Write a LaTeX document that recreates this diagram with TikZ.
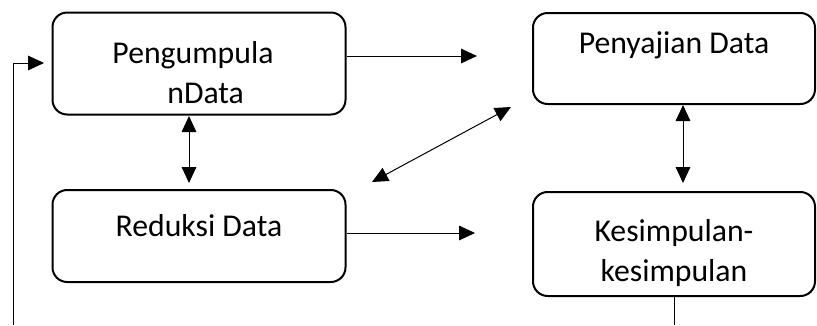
\documentclass[tikz,border=0pt]{standalone}
\usepackage{fontspec}
\setmainfont{Carlito}
\usetikzlibrary{arrows.meta, positioning}

\begin{document}
\begin{tikzpicture}[x=0.75pt, y=-0.75pt, >={Triangle[length=12pt, width=11pt]},
    box/.style={draw, line width=1.5pt, rounded corners=11pt, inner sep=0pt},
    boxtext/.style={font=\fontsize{23.8}{30}\selectfont, align=center, inner sep=0pt},
    link/.style={line width=0.75pt}
]
\useasboundingbox (0,0) rectangle (817,325);

% Kotak-kotak
\node[box, minimum width=219.75pt, minimum height=76.5pt] (pengumpulan) at (199, 63.5) {};
\node[box, minimum width=219.75pt, minimum height=69pt] (reduksi) at (199, 236) {};
\node[box, minimum width=211.5pt, minimum height=68.25pt] (penyajian) at (674, 58.5) {};
\node[box, minimum width=211.5pt, minimum height=78pt] (kesimpulan) at (674, 244) {};

% Teks
\node[boxtext, below=22.5pt] at (pengumpulan.north) {Pengumpula\hspace*{9pt}\\\hspace*{10pt}nData};
\node[boxtext, below=18.75pt] at (reduksi.north) {Reduksi Data};
\node[boxtext, below=14.5pt] at (penyajian.north) {Penyajian Data};
\node[boxtext, below=21pt] at (kesimpulan.north) {Kesimpulan-\\kesimpulan};

% Ujung panah
\coordinate (ac) at (477, 56);
\coordinate (abtop) at (189, 116);
\coordinate (abbot) at (189, 183);
\coordinate (cbtop) at (511, 107);
\coordinate (cbbot) at (372, 182);
\coordinate (bd) at (475, 233);
\coordinate (cdtop) at (683, 105);
\coordinate (cdbot) at (683, 183);
\coordinate (kbawah) at (674, 325);
\coordinate (kiri) at (13, 325);
\coordinate (kiriatas) at (13, 63);
\coordinate (kiriujung) at (44, 63);

% Panah
\draw[link, ->] (pengumpulan.east |- ac) -- (ac);
\draw[link, <->] (abtop) -- (abbot);
\draw[link, <->] (cbtop) -- (cbbot);
\draw[link, ->] (reduksi.east |- bd) -- (bd);
\draw[link, <->] (cdtop) -- (cdbot);
\draw[link] (kesimpulan.south -| kbawah) -- (kbawah);
\draw[link, ->] (kiri) -- (kiriatas) -- (kiriujung);

\end{tikzpicture}
\end{document}
